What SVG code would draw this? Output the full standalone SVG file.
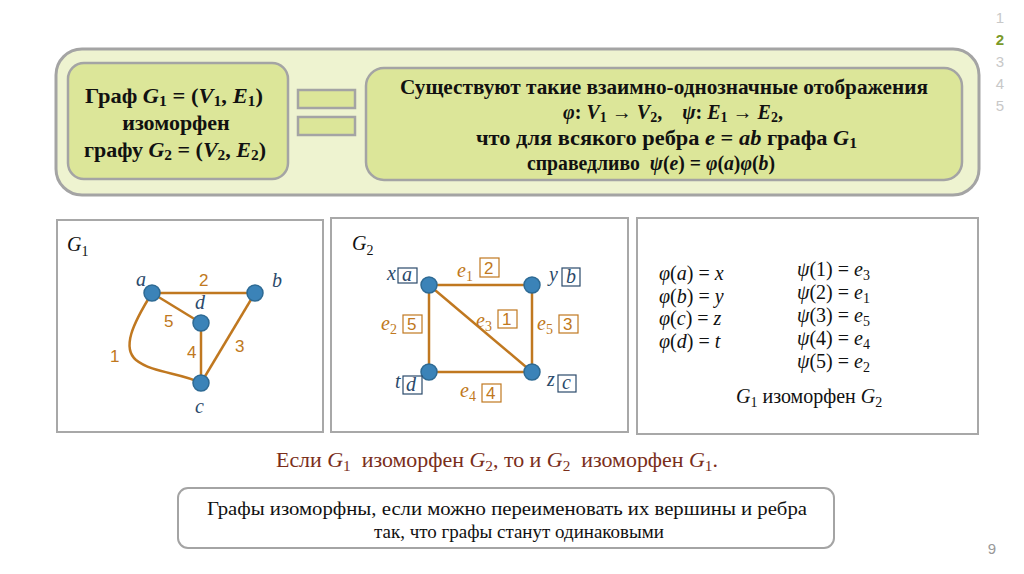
<svg xmlns="http://www.w3.org/2000/svg" width="1024" height="574" viewBox="0 0 1024 574">
<style>
.bt{font-family:"Liberation Serif","DejaVu Serif",serif;font-weight:bold;font-size:22px;fill:#111;}
.rt{font-family:"Liberation Serif","DejaVu Serif",serif;font-weight:bold;font-size:20px;fill:#111;}
.mi{font-style:italic;}
.sb{font-size:70%;}
.m{font-family:"Liberation Serif","DejaVu Serif",serif;font-style:italic;font-size:20px;fill:#111;}
.up{font-style:normal;}
.nl{font-family:"Liberation Serif","DejaVu Serif",serif;font-style:italic;font-size:20px;fill:#2b4a6b;}
.el{font-family:"Liberation Sans","DejaVu Sans",sans-serif;font-size:17px;fill:#c07820;}
.eli{font-family:"Liberation Serif","DejaVu Serif",serif;font-style:italic;font-size:20px;fill:#c07820;}
.edge{stroke:#c07820;stroke-width:2.5;fill:none;}
.node{fill:#3b83b8;stroke:#2e6a94;stroke-width:1.5;}
.panel{fill:#fff;stroke:#a8a8a8;stroke-width:2;}
.lbox{fill:#fff;stroke:#2b4a6b;stroke-width:1.2;}
.ebox{fill:#fff;stroke:#c07820;stroke-width:1.2;}
.nav{font-family:"Liberation Sans","DejaVu Sans",sans-serif;font-size:15px;fill:#c8c8c8;text-anchor:middle;}
</style>
<rect width="1024" height="574" fill="#fff"/>

<g id="nav">
<text class="nav" x="1000" y="23">1</text>
<text class="nav" x="1000" y="45" style="fill:#7a9a2a;font-weight:bold">2</text>
<text class="nav" x="1000" y="67">3</text>
<text class="nav" x="1000" y="89">4</text>
<text class="nav" x="1000" y="111">5</text>
<text class="nav" x="992" y="554" style="fill:#999">9</text>
</g>

<g id="definition">
<rect x="56" y="49" width="923" height="146" rx="26" fill="#eef3d0" stroke="#a4a4a4" stroke-width="3"/>
<g id="left-box">
<rect x="68" y="63" width="220" height="116" rx="16" fill="#dce699" stroke="#a4a4a4" stroke-width="2.5"/>
<text class="bt" x="85" y="103" textLength="178" lengthAdjust="spacingAndGlyphs">Граф <tspan class="mi">G</tspan><tspan class="sb" dy="3">1</tspan><tspan dy="-3">&#160;=&#160;(</tspan><tspan class="mi">V</tspan><tspan class="sb" dy="3">1</tspan><tspan dy="-3">, </tspan><tspan class="mi">E</tspan><tspan class="sb" dy="3">1</tspan><tspan dy="-3">)</tspan></text>
<text class="bt" x="176" y="130" text-anchor="middle">изоморфен</text>
<text class="bt" x="84" y="157" textLength="182" lengthAdjust="spacingAndGlyphs">графу <tspan class="mi">G</tspan><tspan class="sb" dy="3">2</tspan><tspan dy="-3">&#160;=&#160;(</tspan><tspan class="mi">V</tspan><tspan class="sb" dy="3">2</tspan><tspan dy="-3">, </tspan><tspan class="mi">E</tspan><tspan class="sb" dy="3">2</tspan><tspan dy="-3">)</tspan></text>
</g>
<g id="equals">
<rect x="298" y="90" width="57" height="18" fill="#dce699" stroke="#a4a4a4" stroke-width="2.5"/>
<rect x="298" y="117" width="57" height="18" fill="#dce699" stroke="#a4a4a4" stroke-width="2.5"/>
</g>
<g id="right-box">
<rect x="366" y="68" width="596" height="112" rx="18" fill="#dce699" stroke="#a4a4a4" stroke-width="2.5"/>
<text class="rt" x="400" y="94" textLength="528" lengthAdjust="spacingAndGlyphs">Существуют такие взаимно-однозначные отображения</text>
<text class="rt" x="673" y="119" text-anchor="middle"><tspan class="mi">φ</tspan>: <tspan class="mi">V</tspan><tspan class="sb" dy="3">1</tspan><tspan dy="-3"> → </tspan><tspan class="mi">V</tspan><tspan class="sb" dy="3">2</tspan><tspan dy="-3">,&#160;&#160;&#160; </tspan><tspan class="mi">ψ</tspan>: <tspan class="mi">E</tspan><tspan class="sb" dy="3">1</tspan><tspan dy="-3"> → </tspan><tspan class="mi">E</tspan><tspan class="sb" dy="3">2</tspan><tspan dy="-3">,</tspan></text>
<text class="rt" x="476" y="145" textLength="381" lengthAdjust="spacingAndGlyphs">что для всякого ребра <tspan class="mi">e</tspan>&#160;=&#160;<tspan class="mi">ab</tspan> графа <tspan class="mi">G</tspan><tspan class="sb" dy="3">1</tspan></text>
<text class="rt" x="527" y="170" textLength="248" lengthAdjust="spacingAndGlyphs">справедливо&#160; <tspan class="mi">ψ</tspan>(<tspan class="mi">e</tspan>)&#160;=&#160;<tspan class="mi">φ</tspan>(<tspan class="mi">a</tspan>)<tspan class="mi">φ</tspan>(<tspan class="mi">b</tspan>)</text>
</g>
</g>

<g id="panel-g1">
<rect class="panel" x="57" y="220" width="266" height="212"/>
<text class="m" x="67" y="251">G<tspan class="sb up" dy="5">1</tspan></text>
<g id="g1-edges">
<line class="edge" x1="152" y1="293" x2="255" y2="293"/>
<line class="edge" x1="152" y1="293" x2="201" y2="323"/>
<line class="edge" x1="201" y1="323" x2="201" y2="383"/>
<line class="edge" x1="255" y1="293" x2="201" y2="383"/>
<path class="edge" d="M152,293 C132,325 122,348 136,360 C152,373 182,373 201,383"/>
</g>
<g id="g1-nodes">
<circle class="node" cx="152" cy="293" r="8"/>
<circle class="node" cx="255" cy="293" r="8"/>
<circle class="node" cx="201" cy="323" r="8"/>
<circle class="node" cx="201" cy="383" r="8"/>
</g>
<text class="nl" x="136" y="286">a</text>
<text class="nl" x="272" y="287">b</text>
<text class="nl" x="195" y="309">d</text>
<text class="nl" x="195" y="413">c</text>
<text class="el" x="199" y="286">2</text>
<text class="el" x="164" y="327">5</text>
<text class="el" x="187" y="358">4</text>
<text class="el" x="235" y="352">3</text>
<text class="el" x="110" y="362">1</text>
</g>

<g id="panel-g2">
<rect class="panel" x="331" y="218" width="297" height="214"/>
<text class="m" x="352" y="250">G<tspan class="sb up" dy="5">2</tspan></text>
<g id="g2-edges">
<line class="edge" x1="429" y1="285" x2="532" y2="285"/>
<line class="edge" x1="429" y1="285" x2="429" y2="372"/>
<line class="edge" x1="532" y1="285" x2="532" y2="372"/>
<line class="edge" x1="429" y1="372" x2="532" y2="372"/>
<line class="edge" x1="429" y1="285" x2="532" y2="372"/>
</g>
<g id="g2-nodes">
<circle class="node" cx="429" cy="285" r="8"/>
<circle class="node" cx="532" cy="285" r="8"/>
<circle class="node" cx="429" cy="372" r="8"/>
<circle class="node" cx="532" cy="372" r="8"/>
</g>
<text class="nl" x="387" y="280">x</text>
<rect class="lbox" x="398" y="268" width="19" height="15"/>
<text class="nl" x="402" y="281">a</text>
<text class="nl" x="549" y="281">y</text>
<rect class="lbox" x="562" y="268" width="18" height="18"/>
<text class="nl" x="566" y="283">b</text>
<text class="nl" x="395" y="388">t</text>
<rect class="lbox" x="403" y="376" width="19" height="18"/>
<text class="nl" x="406" y="391">d</text>
<text class="nl" x="547" y="386">z</text>
<rect class="lbox" x="558" y="375" width="18" height="17"/>
<text class="nl" x="562" y="389">c</text>
<text class="eli" x="457" y="277">e<tspan class="sb up" dy="4">1</tspan></text>
<rect class="ebox" x="480" y="258" width="19" height="19"/>
<text class="el" x="484" y="274">2</text>
<text class="eli" x="381" y="330">e<tspan class="sb up" dy="4">2</tspan></text>
<rect class="ebox" x="403" y="315" width="19" height="18"/>
<text class="el" x="407" y="330">5</text>
<text class="eli" x="476" y="327">e<tspan class="sb up" dy="4">3</tspan></text>
<rect class="ebox" x="498" y="310" width="19" height="18"/>
<text class="el" x="502" y="325">1</text>
<text class="eli" x="537" y="330">e<tspan class="sb up" dy="4">5</tspan></text>
<rect class="ebox" x="559" y="315" width="19" height="18"/>
<text class="el" x="563" y="330">3</text>
<text class="eli" x="460" y="397">e<tspan class="sb up" dy="4">4</tspan></text>
<rect class="ebox" x="482" y="384" width="19" height="18"/>
<text class="el" x="486" y="399">4</text>
</g>

<g id="panel-mapping">
<rect class="panel" x="637" y="218" width="341" height="216"/>
<text class="m" x="659" y="280">φ<tspan class="up">(</tspan>a<tspan class="up">)&#160;=&#160;</tspan>x</text>
<text class="m" x="659" y="303">φ<tspan class="up">(</tspan>b<tspan class="up">)&#160;=&#160;</tspan>y</text>
<text class="m" x="659" y="325">φ<tspan class="up">(</tspan>c<tspan class="up">)&#160;=&#160;</tspan>z</text>
<text class="m" x="659" y="348">φ<tspan class="up">(</tspan>d<tspan class="up">)&#160;=&#160;</tspan>t</text>
<text class="m" x="797" y="276">ψ<tspan class="up">(1)&#160;=&#160;</tspan>e<tspan class="sb up" dy="4">3</tspan></text>
<text class="m" x="797" y="299">ψ<tspan class="up">(2)&#160;=&#160;</tspan>e<tspan class="sb up" dy="4">1</tspan></text>
<text class="m" x="797" y="322">ψ<tspan class="up">(3)&#160;=&#160;</tspan>e<tspan class="sb up" dy="4">5</tspan></text>
<text class="m" x="797" y="345">ψ<tspan class="up">(4)&#160;=&#160;</tspan>e<tspan class="sb up" dy="4">4</tspan></text>
<text class="m" x="797" y="368">ψ<tspan class="up">(5)&#160;=&#160;</tspan>e<tspan class="sb up" dy="4">2</tspan></text>
<text class="m" x="736" y="403">G<tspan class="sb up" dy="4">1</tspan><tspan class="up" dy="-4"> изоморфен </tspan>G<tspan class="sb up" dy="4">2</tspan></text>
</g>

<g id="note">
<text x="276" y="467" textLength="442" lengthAdjust="spacingAndGlyphs" style="font-family:'Liberation Serif','DejaVu Serif',serif;font-size:20px;fill:#7a2e1a">Если <tspan font-style="italic">G</tspan><tspan font-size="14" dy="4">1</tspan><tspan dy="-4">&#160; изоморфен </tspan><tspan font-style="italic">G</tspan><tspan font-size="14" dy="4">2</tspan><tspan dy="-4">, то и </tspan><tspan font-style="italic">G</tspan><tspan font-size="14" dy="4">2</tspan><tspan dy="-4">&#160; изоморфен </tspan><tspan font-style="italic">G</tspan><tspan font-size="14" dy="4">1</tspan><tspan dy="-4">.</tspan></text>
</g>

<g id="summary">
<rect x="178" y="488" width="656" height="60" rx="10" fill="#fff" stroke="#a4a4a4" stroke-width="2"/>
<text x="207" y="515" textLength="600" lengthAdjust="spacingAndGlyphs" style="font-family:'Liberation Serif','DejaVu Serif',serif;font-size:19px;fill:#111">Графы изоморфны, если можно переименовать их вершины и ребра</text>
<text x="374" y="538" textLength="290" lengthAdjust="spacingAndGlyphs" style="font-family:'Liberation Serif','DejaVu Serif',serif;font-size:19px;fill:#111">так, что графы станут одинаковыми</text>
</g>
</svg>
